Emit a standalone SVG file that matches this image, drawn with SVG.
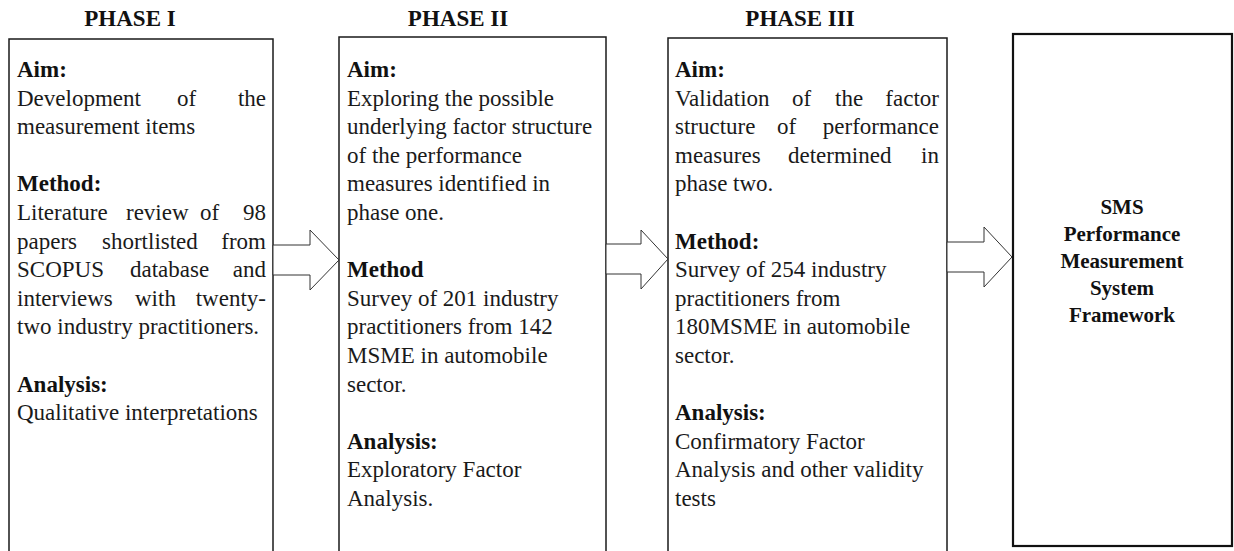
<svg xmlns="http://www.w3.org/2000/svg" width="1234" height="551" viewBox="0 0 1234 551">
<defs>
<style>
.box{fill:#fff;stroke:#1a1a1a;stroke-width:1.5}
.box4{fill:#fff;stroke:#111;stroke-width:2.2}
.arrow{fill:#fff;stroke:#333;stroke-width:1}
.ph{font-family:"Liberation Serif",serif;font-weight:bold;font-size:23px;fill:#111;text-anchor:middle}
.t{font-family:"Liberation Serif",serif;font-size:23px;fill:#1a1a1a}
.b{font-weight:bold;fill:#111}
.e{text-anchor:end}
.c{font-family:"Liberation Serif",serif;font-weight:bold;font-size:21px;fill:#111;text-anchor:middle}
</style>
</defs>
<rect width="1234" height="551" fill="#fff"/>

<g id="phase1">
<text class="ph" x="130" y="26">PHASE I</text>
<rect class="box" x="9" y="39" width="264" height="530"/>
<text class="t b" x="17" y="77">Aim:</text>
<text class="t" x="17" y="105.6">Development</text>
<text class="t" x="177" y="105.6">of</text>
<text class="t e" x="266" y="105.6">the</text>
<text class="t" x="17" y="134.2">measurement items</text>
<text class="t b" x="17" y="191.4">Method:</text>
<text class="t" x="17" y="220">Literature</text>
<text class="t" x="126" y="220">review</text>
<text class="t" x="200" y="220">of</text>
<text class="t e" x="266" y="220">98</text>
<text class="t" x="17" y="248.6">papers</text>
<text class="t" x="102" y="248.6">shortlisted</text>
<text class="t e" x="266" y="248.6">from</text>
<text class="t" x="17" y="277.2">SCOPUS</text>
<text class="t" x="130" y="277.2">database</text>
<text class="t e" x="266" y="277.2">and</text>
<text class="t" x="17" y="305.8">interviews</text>
<text class="t" x="135" y="305.8">with</text>
<text class="t e" x="266" y="305.8">twenty-</text>
<text class="t" x="17" y="334.4">two industry practitioners.</text>
<text class="t b" x="17" y="391.6">Analysis:</text>
<text class="t" x="17" y="420.2">Qualitative interpretations</text>
</g>

<g id="phase2">
<text class="ph" x="458" y="26">PHASE II</text>
<rect class="box" x="339" y="37" width="267" height="530"/>
<text class="t b" x="347" y="77">Aim:</text>
<text class="t" x="347" y="105.6">Exploring the possible</text>
<text class="t" x="347" y="134.2">underlying factor structure</text>
<text class="t" x="347" y="162.8">of  the performance</text>
<text class="t" x="347" y="191.4">measures identified in</text>
<text class="t" x="347" y="220">phase one.</text>
<text class="t b" x="347" y="277.2">Method</text>
<text class="t" x="347" y="305.8">Survey of 201 industry</text>
<text class="t" x="347" y="334.4">practitioners from 142</text>
<text class="t" x="347" y="363">MSME in automobile</text>
<text class="t" x="347" y="391.6">sector.</text>
<text class="t b" x="347" y="448.8">Analysis:</text>
<text class="t" x="347" y="477.4">Exploratory Factor</text>
<text class="t" x="347" y="506">Analysis.</text>
</g>

<g id="phase3">
<text class="ph" x="800" y="26">PHASE III</text>
<rect class="box" x="668" y="38" width="279" height="530"/>
<text class="t b" x="675" y="77">Aim:</text>
<text class="t" x="675" y="105.6">Validation</text>
<text class="t" x="792" y="105.6">of</text>
<text class="t" x="835" y="105.6">the</text>
<text class="t e" x="939" y="105.6">factor</text>
<text class="t" x="675" y="134.2">structure</text>
<text class="t" x="777" y="134.2">of</text>
<text class="t e" x="939" y="134.2">performance</text>
<text class="t" x="675" y="162.8">measures</text>
<text class="t" x="788" y="162.8">determined</text>
<text class="t e" x="939" y="162.8">in</text>
<text class="t" x="675" y="191.4">phase two.</text>
<text class="t b" x="675" y="248.6">Method:</text>
<text class="t" x="675" y="277.2">Survey of 254 industry</text>
<text class="t" x="675" y="305.8">practitioners from</text>
<text class="t" x="675" y="334.4">180MSME in automobile</text>
<text class="t" x="675" y="363">sector.</text>
<text class="t b" x="675" y="420.2">Analysis:</text>
<text class="t" x="675" y="448.8">Confirmatory Factor</text>
<text class="t" x="675" y="477.4">Analysis and other validity</text>
<text class="t" x="675" y="506">tests</text>
</g>

<g id="framework">
<rect class="box4" x="1013" y="34" width="219" height="512"/>
<text class="c" x="1122" y="214">SMS</text>
<text class="c" x="1122" y="241">Performance</text>
<text class="c" x="1122" y="268">Measurement</text>
<text class="c" x="1122" y="295">System</text>
<text class="c" x="1122" y="322">Framework</text>
</g>

<g id="connectors">
<polygon class="arrow" points="273,245 310,245 310,230 339,260 310,290 310,275 273,275"/>
<polygon class="arrow" points="606,244 641,244 641,230 668,259 641,289 641,274 606,274"/>
<polygon class="arrow" points="947,242 984,242 984,227 1012,257 984,287 984,272 947,272"/>
</g>
</svg>
